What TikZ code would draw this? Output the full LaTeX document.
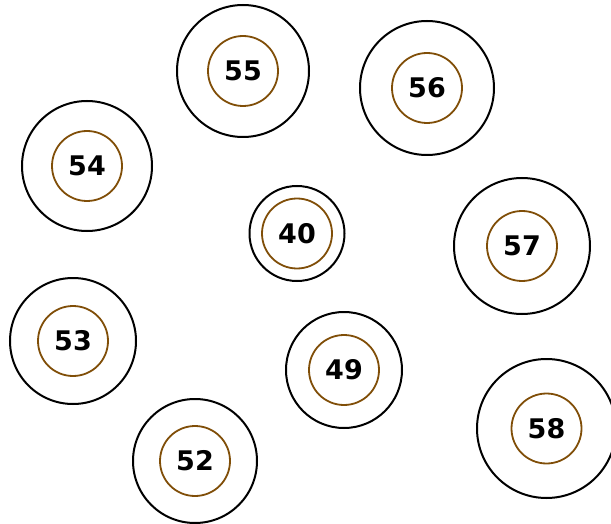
\documentclass[tikz,border=0pt]{standalone}
\usepackage{fontspec}
\setmainfont{DejaVu Sans}
\definecolor{ringbrown}{RGB}{128,78,8}
\begin{document}
\begin{tikzpicture}[x=1pt,y=-1pt,
  outer/.style={circle,draw=black,line width=2pt,inner sep=0pt},
  inner/.style={circle,draw=ringbrown,line width=1.8pt,minimum size=70pt,inner sep=0pt,font=\bfseries\fontsize{27}{27}\selectfont}]
\useasboundingbox (0,0) rectangle (611,524);
\foreach \n/\x/\y/\r in {55/243/71/66, 56/427/88/67, 54/87/166/65, 40/297/233.5/47.5, 57/522/246/68, 53/73/341/63, 49/344/370/58, 58/546.5/428.5/69.5, 52/195/461/62}{
  \node[outer,minimum size=2*\r pt] (o\n) at (\x,\y) {};
  \node[inner] (i\n) at (\x,\y) {\n};
}
\end{tikzpicture}
\end{document}
